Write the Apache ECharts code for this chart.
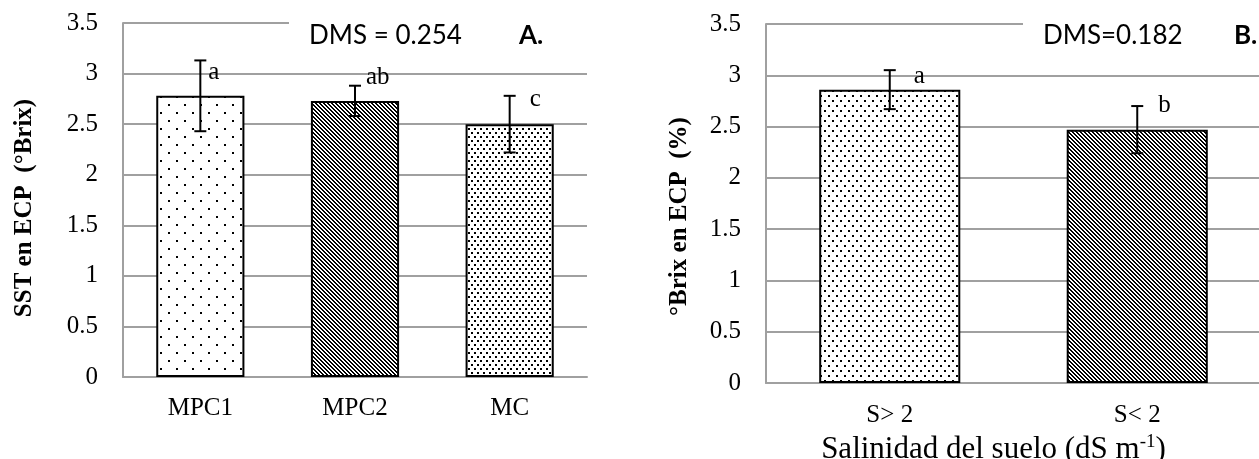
<!DOCTYPE html>
<html><head><meta charset="utf-8">
<script src="https://cdn.jsdelivr.net/npm/echarts@6/dist/echarts.min.js"></script>
<style>html,body{margin:0;padding:0;background:#fff}#c{width:1259px;height:459px}</style>
</head><body><div id="c"></div>
<script>
// ---- data ----
const categoriesA = ['MPC1', 'MPC2', 'MC'];
const valuesA = [2.78, 2.73, 2.50];
const errorsA = [0.35, 0.15, 0.28];
const lettersA = ['a', 'ab', 'c'];

const categoriesB = ['S> 2', 'S< 2'];
const valuesB = [2.86, 2.47];
const errorsB = [0.19, 0.23];
const lettersB = ['a', 'b'];

const yTickLabels = ['0', '0.5', '1', '1.5', '2', '2.5', '3', '3.5'];
const titleA = 'SST en ECP  (°Brix)';
const titleB = '°Brix en ECP  (%)';
const xTitleB = ['Salinidad del suelo (dS m', '-1', ')'];
const dmsA = 'DMS = 0.254', panelA = 'A.';
const dmsB = 'DMS=0.182', panelB = 'B.';

// ---- styling ----
const letterOffsetsA = [[8, 12], [11, -8], [20, 4]];
const letterOffsetsB = [[24, 6], [21, -1]];
const GRID = '#a0a0a0';
const SERIF = '"Liberation Serif", "Times New Roman", serif';

function makePattern(w, h, draw) {
  const c = document.createElement('canvas');
  c.width = w; c.height = h;
  const g = c.getContext('2d');
  g.fillStyle = '#fff'; g.fillRect(0, 0, w, h);
  g.fillStyle = '#000';
  draw(g);
  return { image: c, repeat: 'repeat' };
}
const sparseDots = makePattern(16, 16, g => { g.fillRect(0, 0, 2, 2); g.fillRect(8, 8, 2, 2); });
const denseDots = makePattern(6, 8, g => { g.fillRect(0, 0, 2, 2); g.fillRect(3, 4, 2, 2); });
const mediumDots = makePattern(8, 10, g => { g.fillRect(0, 0, 2, 2); g.fillRect(4, 5, 2, 2); });
const hatch = makePattern(4, 4, g => {
  for (let i = 0; i < 4; i++) { g.fillRect(i, i, 1, 1); g.fillRect((i + 1) % 4, i, 1, 1); }
});
const patternsA = [sparseDots, hatch, denseDots];
const patternsB = [mediumDots, hatch];

function errorRenderer(letters, offsets) {
  return function (params, api) {
    const i = api.value(0), v = api.value(1), e = api.value(2);
    const top = api.coord([i, v + e]);
    const bot = api.coord([i, v - e]);
    const hw = 6;
    const st = { stroke: '#000', lineWidth: 2 };
    const off = offsets[i];
    return {
      type: 'group', children: [
        { type: 'line', shape: { x1: top[0], y1: top[1], x2: bot[0], y2: bot[1] }, style: st },
        { type: 'line', shape: { x1: top[0] - hw, y1: top[1], x2: top[0] + hw, y2: top[1] }, style: st },
        { type: 'line', shape: { x1: bot[0] - hw, y1: bot[1], x2: bot[0] + hw, y2: bot[1] }, style: st },
        { type: 'text', x: top[0] + off[0], y: top[1] + off[1],
          style: { text: letters[i], fontFamily: SERIF, fontSize: 25, fill: '#000', align: 'left', verticalAlign: 'middle' } }
      ]
    };
  };
}

function yAxisCfg(gridIndex, name, gap, pad) {
  return {
    type: 'value', gridIndex, min: 0, max: 3.5, interval: 0.5,
    axisLine: { show: true, lineStyle: { color: GRID, width: 2 } },
    axisTick: { show: false },
    splitLine: { lineStyle: { color: GRID, width: 2 } },
    axisLabel: { fontFamily: SERIF, fontSize: 25, color: '#000', margin: 25,
      formatter: v => yTickLabels[Math.round(v / 0.5)] },
    name, nameLocation: 'middle', nameGap: gap, nameRotate: 90,
    nameTextStyle: { fontFamily: SERIF, fontWeight: 'bold', fontSize: 25, color: '#000', padding: pad }
  };
}

const chart = echarts.init(document.getElementById('c'), null, { renderer: 'canvas' });
chart.setOption({
  animation: false,
  backgroundColor: '#fff',
  textStyle: { fontFamily: SERIF },
  grid: [
    { left: 123, top: 23, width: 464, height: 354, outerBoundsMode: 'none', containLabel: false },
    { left: 766, top: 24, width: 495, height: 359, outerBoundsMode: 'none', containLabel: false }
  ],
  xAxis: [
    { type: 'category', gridIndex: 0, data: categoriesA,
      axisLine: { lineStyle: { color: GRID, width: 2 } }, axisTick: { show: false },
      axisLabel: { fontFamily: SERIF, fontSize: 25, color: '#000', margin: 19 } },
    { type: 'category', gridIndex: 1, data: categoriesB,
      axisLine: { lineStyle: { color: GRID, width: 2 } }, axisTick: { show: false },
      axisLabel: { fontFamily: SERIF, fontSize: 25, color: '#000', margin: 20 },
      name: '{n|' + xTitleB[0] + '}{s|' + xTitleB[1] + '}{n|' + xTitleB[2] + '}',
      nameLocation: 'middle', nameGap: 41,
      nameTextStyle: { padding: [0, 40, 0, 0],
        rich: { n: { fontFamily: SERIF, fontSize: 31, color: '#000', lineHeight: 34 },
                s: { fontFamily: SERIF, fontSize: 19, color: '#000', verticalAlign: 'top', lineHeight: 34 } } } }
  ],
  yAxis: [
    yAxisCfg(0, titleA, 86, [0, 16, 0, 0]),
    yAxisCfg(1, titleB, 74, [0, 26, 0, 0])
  ],
  series: [
    { type: 'bar', xAxisIndex: 0, yAxisIndex: 0, barWidth: '57%',
      itemStyle: { borderColor: '#000', borderWidth: 2 },
      data: valuesA.map((v, i) => ({ value: v, itemStyle: { color: patternsA[i] } })) },
    { type: 'custom', xAxisIndex: 0, yAxisIndex: 0, z: 5,
      renderItem: errorRenderer(lettersA, letterOffsetsA),
      encode: { x: 0, y: 1 },
      data: valuesA.map((v, i) => [i, v, errorsA[i]]) },
    { type: 'bar', xAxisIndex: 1, yAxisIndex: 1, barWidth: '57%',
      itemStyle: { borderColor: '#000', borderWidth: 2 },
      data: valuesB.map((v, i) => ({ value: v, itemStyle: { color: patternsB[i] } })) },
    { type: 'custom', xAxisIndex: 1, yAxisIndex: 1, z: 5,
      renderItem: errorRenderer(lettersB, letterOffsetsB),
      encode: { x: 0, y: 1 },
      data: valuesB.map((v, i) => [i, v, errorsB[i]]) }
  ],
  graphic: [
    { type: 'rect', z: 100, shape: { x: 289, y: 8, width: 311, height: 46 }, style: { fill: '#fff' } },
    { type: 'rect', z: 100, shape: { x: 1023, y: 8, width: 236, height: 46 }, style: { fill: '#fff' } },
    { type: 'text', z: 101, x: 309, y: 36, style: { text: dmsA, fontFamily: 'Lato', fontSize: 26, fill: '#000', verticalAlign: 'middle' } },
    { type: 'text', z: 101, x: 519, y: 36, style: { text: panelA, fontFamily: 'Lato', fontWeight: 'bold', fontSize: 26, fill: '#000', verticalAlign: 'middle' } },
    { type: 'text', z: 101, x: 1043, y: 36, style: { text: dmsB, fontFamily: 'Lato', fontSize: 26, fill: '#000', verticalAlign: 'middle' } },
    { type: 'text', z: 101, x: 1234, y: 36, style: { text: panelB, fontFamily: 'Lato', fontWeight: 'bold', fontSize: 26, fill: '#000', verticalAlign: 'middle' } }
  ]
});
</script>
</body></html>
